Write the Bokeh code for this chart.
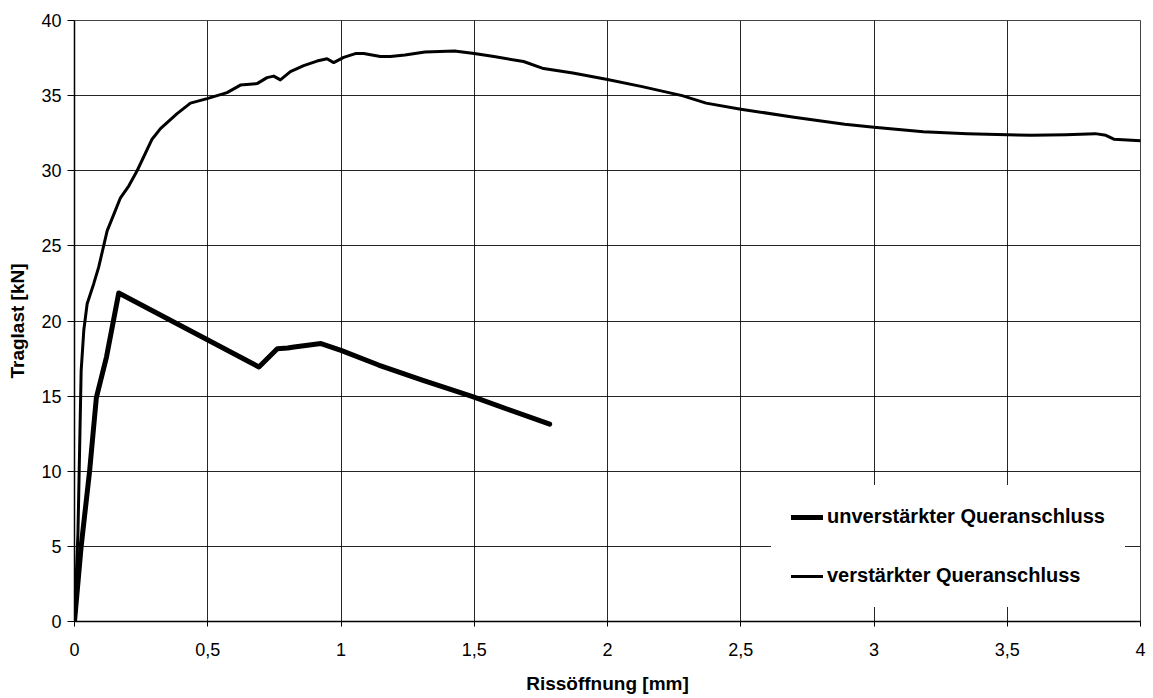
from bokeh.plotting import figure
from bokeh.models import FixedTicker, Legend, LegendItem
from bokeh.embed import file_html
from bokeh.resources import INLINE

# ---- data ----
x_unv = [0.0, 0.025, 0.057, 0.082, 0.12, 0.166, 0.692, 0.761, 0.80, 0.824, 0.925, 1.0, 1.141, 1.305, 1.494, 1.783]
y_unv = [0.0, 5.0, 10.07, 14.9, 17.6, 21.86, 16.94, 18.16, 18.2, 18.27, 18.5, 18.05, 17.07, 16.07, 14.96, 13.13]

x_ver = [0.0, 0.013, 0.025, 0.035, 0.0475, 0.0725, 0.091, 0.1225, 0.1475, 0.1725, 0.204, 0.235,
         0.291, 0.3225, 0.385, 0.435, 0.4975, 0.5725, 0.6225, 0.685, 0.7225, 0.7475, 0.7725,
         0.81, 0.86, 0.91, 0.9475, 0.9725, 1.01, 1.054, 1.085, 1.1475, 1.185, 1.24, 1.315,
         1.426, 1.5, 1.574, 1.685, 1.76, 1.87, 2.0, 2.13, 2.28, 2.37, 2.5, 2.7, 2.89, 3.0,
         3.185, 3.35, 3.5, 3.59, 3.72, 3.83, 3.87, 3.9, 4.0]
y_ver = [0.0, 5.9, 16.7, 19.4, 21.15, 22.5, 23.6, 26.0, 27.1, 28.2, 29.0, 30.0,
         32.1, 32.8, 33.8, 34.5, 34.8, 35.2, 35.7, 35.8, 36.2, 36.3, 36.05,
         36.6, 37.0, 37.3, 37.45, 37.2, 37.55, 37.8, 37.8, 37.6, 37.6, 37.7, 37.9,
         37.97, 37.8, 37.6, 37.27, 36.8, 36.5, 36.07, 35.6, 35.0, 34.5, 34.1, 33.56, 33.1, 32.9,
         32.6, 32.47, 32.4, 32.36, 32.4, 32.47, 32.36, 32.1, 32.0]

x_ticks = [0, 0.5, 1, 1.5, 2, 2.5, 3, 3.5, 4]
x_tick_labels = ["0", "0,5", "1", "1,5", "2", "2,5", "3", "3,5", "4"]
y_ticks = [0, 5, 10, 15, 20, 25, 30, 35, 40]

labels = ["unverstärkter Queranschluss", "verstärkter Queranschluss"]

FONT = "Liberation Sans"

p = figure(width=1148, height=696, x_range=(0, 4), y_range=(0, 40),
           output_backend="svg", toolbar_location=None,
           min_border_left=74, min_border_right=8, min_border_top=20, min_border_bottom=74)
p.background_fill_color = "white"
p.border_fill_color = "white"
p.outline_line_color = "#444444"
p.outline_line_width = 1

r1 = p.line(x_unv, y_unv, line_color="black", line_width=5, line_join="round", line_cap="round")
r2 = p.line(x_ver, y_ver, line_color="black", line_width=3, line_join="round", line_cap="round")

p.xaxis.ticker = FixedTicker(ticks=x_ticks)
p.xaxis.major_label_overrides = {t: l for t, l in zip(x_ticks, x_tick_labels)}
p.yaxis.ticker = FixedTicker(ticks=y_ticks)

for ax in (p.xaxis, p.yaxis):
    ax.axis_line_color = "black"
    ax.axis_line_width = 1.5
    ax.major_tick_line_color = "black"
    ax.major_tick_in = 0
    ax.minor_tick_line_color = None
    ax.major_label_text_font = FONT
    ax.major_label_text_font_size = "18px"
    ax.major_label_text_color = "black"
    ax.axis_label_text_font = FONT
    ax.axis_label_text_font_size = "19px"
    ax.axis_label_text_font_style = "bold"
    ax.axis_label_text_color = "black"

p.xaxis.major_tick_out = 5
p.yaxis.major_tick_out = 7
p.xaxis.major_label_standoff = 16
p.yaxis.major_label_standoff = 6
p.xaxis.axis_label = "Rissöffnung [mm]"
p.yaxis.axis_label = "Traglast [kN]"
p.xaxis.axis_label_standoff = 14
p.yaxis.axis_label_standoff = 10

p.xgrid.grid_line_color = "black"
p.ygrid.grid_line_color = "black"
p.xgrid.grid_line_alpha = 0.85
p.ygrid.grid_line_alpha = 0.85
p.xgrid.grid_line_width = 1
p.ygrid.grid_line_width = 1

legend = Legend(items=[LegendItem(label=labels[0], renderers=[r1]),
                       LegendItem(label=labels[1], renderers=[r2])],
                location=(697, 14))
legend.border_line_alpha = 0
legend.background_fill_color = "white"
legend.background_fill_alpha = 1
legend.label_text_font = FONT
legend.label_text_font_size = "20px"
legend.label_text_font_style = "bold"
legend.label_text_color = "black"
legend.glyph_width = 32
legend.glyph_height = 22
legend.label_height = 22
legend.label_standoff = 4
legend.spacing = 36
legend.padding = 20
legend.margin = 0
p.add_layout(legend, "center")

open("out.html", "w").write(file_html(p, INLINE))
